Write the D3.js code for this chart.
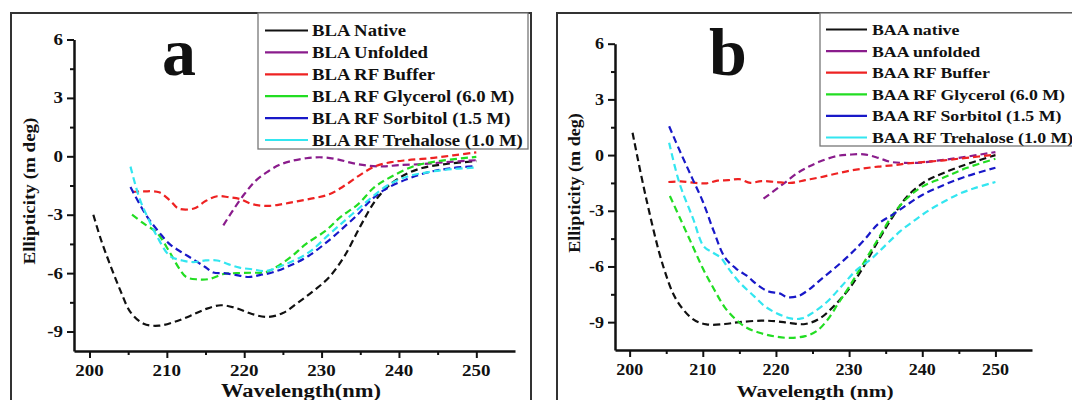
<!DOCTYPE html>
<html>
<head>
<meta charset="utf-8">
<script src="https://cdn.jsdelivr.net/npm/d3@7"></script>
<style>
  body { margin: 0; background: #fff; }
  svg { display: block; }
</style>
</head>
<body>
<script>
// tick values
const xTicks = [200, 210, 220, 230, 240, 250];
const yTicks = [-9, -6, -3, 0, 3, 6];

// panel a : BLA
const aLabels = ["BLA Native", "BLA Unfolded", "BLA RF Buffer", "BLA RF Glycerol (6.0 M)", "BLA RF Sorbitol (1.5 M)", "BLA RF Trehalose (1.0 M)"];
const aNativeX = [200.5, 201.5, 202.7, 204, 205.3, 207, 209, 211, 213, 215, 217, 219, 221, 223, 225, 227, 229, 231, 233, 235, 237, 239, 241, 243, 245, 247, 250];
const aNativeY = [-3.0, -4.3, -5.6, -6.9, -8.0, -8.6, -8.7, -8.5, -8.2, -7.85, -7.65, -7.8, -8.1, -8.25, -8.05, -7.5, -6.9, -6.2, -5.1, -3.6, -2.25, -1.4, -0.9, -0.6, -0.45, -0.35, -0.25];
const aUnfoldedX = [217.3, 218.5, 220, 221.5, 223, 224.5, 226, 228, 230, 232, 234, 236, 238, 240, 243, 246, 250];
const aUnfoldedY = [-3.55, -2.8, -1.95, -1.25, -0.8, -0.45, -0.25, -0.1, -0.05, -0.15, -0.35, -0.48, -0.52, -0.45, -0.4, -0.3, -0.2];
const aBufferX = [205.5, 207, 209, 210.5, 211.5, 213.5, 215, 216.5, 218, 219.5, 221, 223, 225, 227, 229, 231, 233, 235, 237, 239, 241, 244, 247, 250];
const aBufferY = [-1.83, -1.8, -1.85, -2.3, -2.68, -2.68, -2.3, -2.05, -2.1, -2.2, -2.45, -2.55, -2.45, -2.3, -2.15, -1.95, -1.5, -0.95, -0.5, -0.3, -0.2, -0.1, 0.05, 0.2];
const aGlycerolX = [205.5, 207, 208.7, 210.4, 211.5, 212.5, 214, 215.5, 217.2, 219, 221, 222.8, 224.5, 226.2, 228, 230.5, 232.5, 234.7, 236.8, 239, 242, 245, 250];
const aGlycerolY = [-3.0, -3.45, -3.92, -4.95, -5.7, -6.2, -6.32, -6.3, -6.06, -6.0, -5.98, -5.95, -5.6, -5.12, -4.5, -3.83, -3.1, -2.47, -1.6, -1.05, -0.5, -0.25, -0.03];
const aSorbitolX = [205.3, 207.4, 209, 210.4, 212, 213.4, 215, 216, 217.6, 219, 220.6, 222, 223.6, 226, 228.3, 231, 233, 234.7, 236, 238, 241, 244, 247, 250];
const aSorbitolY = [-1.58, -3.07, -3.9, -4.52, -4.95, -5.29, -5.7, -5.97, -6.01, -6.1, -6.2, -6.1, -5.97, -5.6, -5.12, -4.3, -3.6, -2.98, -2.4, -1.75, -1.18, -0.8, -0.6, -0.5];
const aTrehaloseX = [205.3, 206.5, 207.6, 208.7, 210.4, 212, 213.4, 215, 216.5, 218, 219.4, 221, 222.8, 225, 228.3, 231, 233, 234.7, 236.5, 238.5, 241, 244, 247, 250];
const aTrehaloseY = [-0.53, -2.2, -3.2, -4.09, -5.12, -5.35, -5.43, -5.35, -5.35, -5.55, -5.72, -5.8, -5.89, -5.6, -4.95, -4.0, -3.3, -2.72, -2.1, -1.5, -1.05, -0.8, -0.65, -0.58];

// panel b : BAA
const bLabels = ["BAA native", "BAA unfolded", "BAA RF Buffer", "BAA RF Glycerol (6.0 M)", "BAA RF Sorbitol (1.5 M)", "BAA RF Trehalose (1.0 M)"];
const bNativeX = [200.4, 202.3, 204.6, 206.4, 208.7, 210.5, 213, 215, 218, 220, 222, 224, 226, 228, 230, 232, 234, 236, 238, 240.5, 243, 246, 248, 250];
const bNativeY = [1.2, -2.4, -6.0, -7.8, -8.85, -9.12, -9.1, -9.0, -8.92, -8.95, -9.05, -9.1, -8.8, -8.1, -7.2, -6.0, -4.6, -3.3, -2.2, -1.4, -0.95, -0.5, -0.25, 0.0];
const bUnfoldedX = [218.3, 220, 221.5, 223, 224.5, 226, 228.3, 230, 232, 234, 235.6, 237.5, 239.7, 242, 245, 250];
const bUnfoldedY = [-2.35, -1.85, -1.4, -0.95, -0.62, -0.35, -0.05, 0.02, 0.04, -0.15, -0.36, -0.42, -0.41, -0.3, -0.15, 0.16];
const bBufferX = [205.3, 207, 209, 210.5, 212, 213.5, 215, 216.5, 218, 220, 222, 224, 226, 228, 230, 232, 234, 236, 238, 240, 243, 246, 250];
const bBufferY = [-1.45, -1.42, -1.5, -1.52, -1.38, -1.35, -1.3, -1.5, -1.4, -1.45, -1.5, -1.35, -1.2, -1.02, -0.85, -0.72, -0.62, -0.55, -0.45, -0.38, -0.28, -0.15, 0.02];
const bGlycerolX = [205.5, 207, 208.5, 210, 211.5, 213, 214.5, 216, 218, 220, 222, 224, 225.5, 227, 228.5, 230, 232, 234, 236, 238, 240, 243, 246, 250];
const bGlycerolY = [-2.2, -3.5, -4.8, -6.1, -7.2, -8.2, -8.85, -9.3, -9.6, -9.78, -9.85, -9.75, -9.5, -8.9, -8.0, -7.1, -5.8, -4.5, -3.2, -2.3, -1.7, -1.2, -0.7, -0.2];
const bSorbitolX = [205.4, 207, 208.5, 210, 211.5, 213, 214.5, 216, 217.5, 219, 220.5, 221.5, 223, 224.5, 226, 228, 230, 232, 234, 236, 238, 240, 243, 246, 250];
const bSorbitolY = [1.55, 0.1, -1.2, -2.5, -4.1, -5.5, -6.1, -6.5, -7.0, -7.35, -7.45, -7.65, -7.6, -7.25, -6.75, -6.1, -5.4, -4.6, -3.7, -3.2, -2.65, -2.15, -1.6, -1.15, -0.68];
const bTrehaloseX = [205.4, 206.8, 208.7, 210.1, 211.4, 212.5, 213.5, 215, 217, 218.5, 220, 222, 223.5, 225, 227, 229, 231, 233, 235, 237, 239, 241, 243, 245, 247, 250];
const bTrehaloseY = [0.67, -1.5, -3.45, -4.9, -5.26, -5.55, -6.1, -6.85, -7.6, -8.15, -8.5, -8.8, -8.8, -8.5, -7.9, -7.05, -6.2, -5.6, -4.85, -4.1, -3.5, -2.95, -2.5, -2.1, -1.8, -1.45];

const colors = ["#111111", "#8a1c8c", "#ee2222", "#22dd22", "#1818c8", "#33e6f0"];

const svg = d3.select("body").append("svg")
  .attr("width", 1072)
  .attr("height", 400)
  .style("font-family", "'Liberation Serif', 'Times New Roman', serif")
  .style("font-weight", "bold");

// texte étiré horizontalement comme dans l'image
function addText(g, x, y, txt, size, sx, anchor, rot) {
  return g.append("text")
    .attr("transform", `translate(${x},${y}) rotate(${rot || 0}) scale(${sx},1)`)
    .attr("text-anchor", anchor)
    .attr("font-size", size)
    .attr("fill", "#111")
    .text(txt);
}

function drawPanel(p) {
  const g = svg.append("g");

  // cadre
  g.append("rect")
    .attr("x", p.frame[0]).attr("y", p.frame[1])
    .attr("width", p.frame[2]).attr("height", 420)
    .attr("fill", "#fff").attr("stroke", "#333").attr("stroke-width", 2);

  const x = d3.scaleLinear().domain([198, 255]).range([p.left, p.right]);
  const y = d3.scaleLinear().domain([p.yMin, 6]).range([p.bottom, p.top]);

  // axes
  const xAxis = g.append("g").attr("transform", `translate(0,${p.bottom})`)
    .call(d3.axisBottom(x).tickValues(d3.range(200, 255, 5)).tickSize(0).tickFormat(""));
  xAxis.select(".domain").attr("stroke", "#111").attr("stroke-width", 2.5);
  xAxis.selectAll(".tick line")
    .attr("y2", d => d % 10 === 0 ? 7 : 4).attr("stroke", "#111").attr("stroke-width", 2);

  const yAxis = g.append("g").attr("transform", `translate(${p.left},0)`)
    .call(d3.axisLeft(y).tickValues(d3.range(-9, 6.1, 1.5)).tickSize(0).tickFormat(""));
  yAxis.select(".domain").attr("stroke", "#111").attr("stroke-width", 2.5);
  yAxis.selectAll(".tick line")
    .attr("x2", d => d % 3 === 0 ? -7 : -4).attr("stroke", "#111").attr("stroke-width", 2);

  xTicks.forEach(t => addText(g, x(t), p.bottom + 25, t, 16.5 * p.k, 1.15, "middle"));
  yTicks.forEach(t => addText(g, p.left - 11, y(t) + 5.5, t, 16.5 * p.k, 1.15, "end"));

  addText(g, p.xLabelX, 397, p.xLabel, 18 * p.k, 1.25, "middle");
  addText(g, p.yLabelX, p.yLabelY, "Ellipticity (m deg)", 17 * p.k, 1.12, "middle", -90);
  addText(g, p.tagX, 75, p.tag, 68, 1, "middle");

  // courbes
  const line = d3.line()
    .x(d => x(d[0])).y(d => y(d[1]))
    .curve(d3.curveCatmullRom.alpha(0.5));
  p.series.forEach((s, i) => {
    g.append("path")
      .datum(d3.zip(s[0], s[1]))
      .attr("d", line)
      .attr("fill", "none")
      .attr("stroke", colors[i])
      .attr("stroke-width", 2.2)
      .attr("stroke-dasharray", "7,4");
  });

  // légende
  const L = p.legend;
  g.append("rect")
    .attr("x", L.x).attr("y", L.y).attr("width", L.w).attr("height", L.h)
    .attr("fill", "#fff").attr("stroke", "#777").attr("stroke-width", 1.3);
  p.labels.forEach((lab, i) => {
    const yy = L.row0 + i * L.step;
    g.append("line")
      .attr("x1", L.lx1).attr("x2", L.lx2).attr("y1", yy).attr("y2", yy)
      .attr("stroke", colors[i]).attr("stroke-width", 2.2);
    addText(g, L.tx, yy + 5.5, lab, 16 * p.k, 1.17, "start");
  });
}

drawPanel({
  frame: [11, 13, 520],
  left: 74, right: 515, top: 39.5, bottom: 351, yMin: -10,
  k: 1, tag: "a", tagX: 179,
  xLabel: "Wavelength(nm)", xLabelX: 301,
  yLabelX: 35, yLabelY: 191,
  labels: aLabels,
  legend: { x: 258, y: 13, w: 270, h: 136, row0: 30.5, step: 21.9, lx1: 265, lx2: 308, tx: 312 },
  series: [[aNativeX, aNativeY], [aUnfoldedX, aUnfoldedY], [aBufferX, aBufferY],
           [aGlycerolX, aGlycerolY], [aSorbitolX, aSorbitolY], [aTrehaloseX, aTrehaloseY]]
});

drawPanel({
  frame: [557, 13, 600],
  left: 615, right: 1032, top: 43.7, bottom: 350, yMin: -10.5,
  k: 0.95, tag: "b", tagX: 728,
  xLabel: "Wavelength (nm)", xLabelX: 815,
  yLabelX: 580, yLabelY: 183,
  labels: bLabels,
  legend: { x: 820, y: 13, w: 300, h: 133, row0: 29.5, step: 21.6, lx1: 826, lx2: 867, tx: 872 },
  series: [[bNativeX, bNativeY], [bUnfoldedX, bUnfoldedY], [bBufferX, bBufferY],
           [bGlycerolX, bGlycerolY], [bSorbitolX, bSorbitolY], [bTrehaloseX, bTrehaloseY]]
});
</script>
</body>
</html>
